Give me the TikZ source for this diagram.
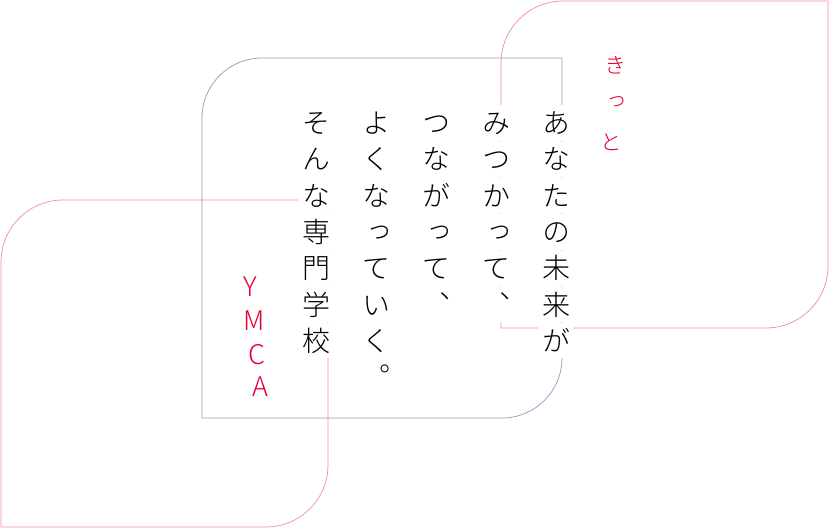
\documentclass[tikz,border=0pt]{standalone}
\usepackage{fontspec}
\usepackage{xcolor}
\usepackage{tikz}
\IfFontExistsTF{Noto Sans CJK JP Light}
  {\newfontfamily\jp[RawFeature=+vert]{Noto Sans CJK JP Light}}
  {\newfontfamily\jp[RawFeature=+vert]{Noto Sans CJK JP}}
\definecolor{rose}{RGB}{240,140,160}
\definecolor{slate}{RGB}{135,157,190}
\definecolor{crimson}{RGB}{228,0,50}

\begin{document}
\begin{tikzpicture}[x=1pt,y=1pt]
    \def\dx{60}
    \def\dy{36.3}
    \def\sy{405}
    \def\ax{556}
    \def\ox{\ax-0*\dx}

    \useasboundingbox (0,0) rectangle (830,528);

    \tikzstyle{pinkline}=[draw=rose,line width=0.7pt]
    \tikzstyle{blueline}=[draw=slate,line width=0.7pt]
    \tikzstyle{word}=[fill=white,inner sep=0pt,minimum width=36pt,minimum height=35.3pt,text height=24.6pt,text depth=3.4pt,font=\jp\fontsize{28}{28}\selectfont]
    \tikzstyle{hand}=[text=crimson,inner sep=0pt,font=\jp\fontsize{22}{22}\selectfont]
    \tikzstyle{handlatin}=[text=crimson,inner sep=0pt,font=\jp\fontsize{27}{27}\selectfont]

    % frames
    \draw[pinkline] (501,200) -- (501,465) arc[start angle=180,end angle=90,radius=62pt] -- (828,527) -- (828,262) arc[start angle=0,end angle=-90,radius=62pt] -- cycle;
    \draw[blueline] (202,110) -- (202,410) arc[start angle=180,end angle=90,radius=60pt] -- (562,470) -- (562,170) arc[start angle=0,end angle=-90,radius=60pt] -- cycle;
    \draw[pinkline] (1,1) -- (1,266) arc[start angle=180,end angle=90,radius=62pt] -- (328,328) -- (328,63) arc[start angle=0,end angle=-90,radius=62pt] -- cycle;

    \node[word]  (1w1) at (\ox,\sy-0*\dy) {あ};
    \node[word]  (1w2) at (\ox,\sy-1*\dy) {な};
    \node[word]  (1w3) at (\ox,\sy-2*\dy) {た};
    \node[word]  (1w4) at (\ox,\sy-3*\dy) {の};
    \node[word]  (1w5) at (\ox,\sy-4*\dy) {未};
    \node[word]  (1w6) at (\ox,\sy-5*\dy) {来};
    \node[word]  (1w7) at (\ox,\sy-6*\dy) {が};

    \def\ox{\ax-1*\dx}

    \node[word]  (2w1) at (\ox,\sy-0*\dy) {み};
    \node[word]  (2w2) at (\ox,\sy-1*\dy) {つ};
    \node[word]  (2w3) at (\ox,\sy-2*\dy) {か};
    \node[word]  (2w4) at (\ox,\sy-3*\dy) {っ};
    \node[word]  (2w5) at (\ox,\sy-4*\dy) {て};
    \node[word]  (2w6) at (\ox,\sy-5*\dy) {、};

    \def\ox{\ax-2*\dx}

    \node[word]  (3w1) at (\ox,\sy-0*\dy) {つ};
    \node[word]  (3w2) at (\ox,\sy-1*\dy) {な};
    \node[word]  (3w3) at (\ox,\sy-2*\dy) {が};
    \node[word]  (3w4) at (\ox,\sy-3*\dy) {っ};
    \node[word]  (3w5) at (\ox,\sy-4*\dy) {て};
    \node[word]  (3w6) at (\ox,\sy-5*\dy) {、};

    \def\ox{\ax-3*\dx}

    \node[word]  (4w1) at (\ox,\sy-0*\dy) {よ};
    \node[word]  (4w2) at (\ox,\sy-1*\dy) {く};
    \node[word]  (4w3) at (\ox,\sy-2*\dy) {な};
    \node[word]  (4w4) at (\ox,\sy-3*\dy) {っ};
    \node[word]  (4w5) at (\ox,\sy-4*\dy) {て};
    \node[word]  (4w6) at (\ox,\sy-5*\dy) {い};
    \node[word]  (4w7) at (\ox,\sy-6*\dy) {く};
    \node[word]  (4w8) at (\ox,\sy-7*\dy) {。};

    \def\ox{\ax-4*\dx}

    \node[word]  (5w1) at (\ox,\sy-0*\dy) {そ};
    \node[word]  (5w2) at (\ox,\sy-1*\dy) {ん};
    \node[word]  (5w3) at (\ox,\sy-2*\dy) {な};
    \node[word]  (5w4) at (\ox,\sy-3*\dy) {専};
    \node[word]  (5w5) at (\ox,\sy-4*\dy) {門};
    \node[word]  (5w6) at (\ox,\sy-5*\dy) {学};
    \node[word]  (5w7) at (\ox,\sy-6*\dy) {校};

    % handwriting
    \node[hand] (k1) at (615,463) {き};
    \node[hand] (k2) at (614,425) {っ};
    \node[hand] (k3) at (611,386) {と};

    \node[handlatin] (y1) at (250,241) {Y};
    \node[handlatin] (y2) at (254,207) {M};
    \node[handlatin] (y3) at (257,173) {C};
    \node[handlatin] (y4) at (260,141) {A};

\end{tikzpicture}
\end{document}
